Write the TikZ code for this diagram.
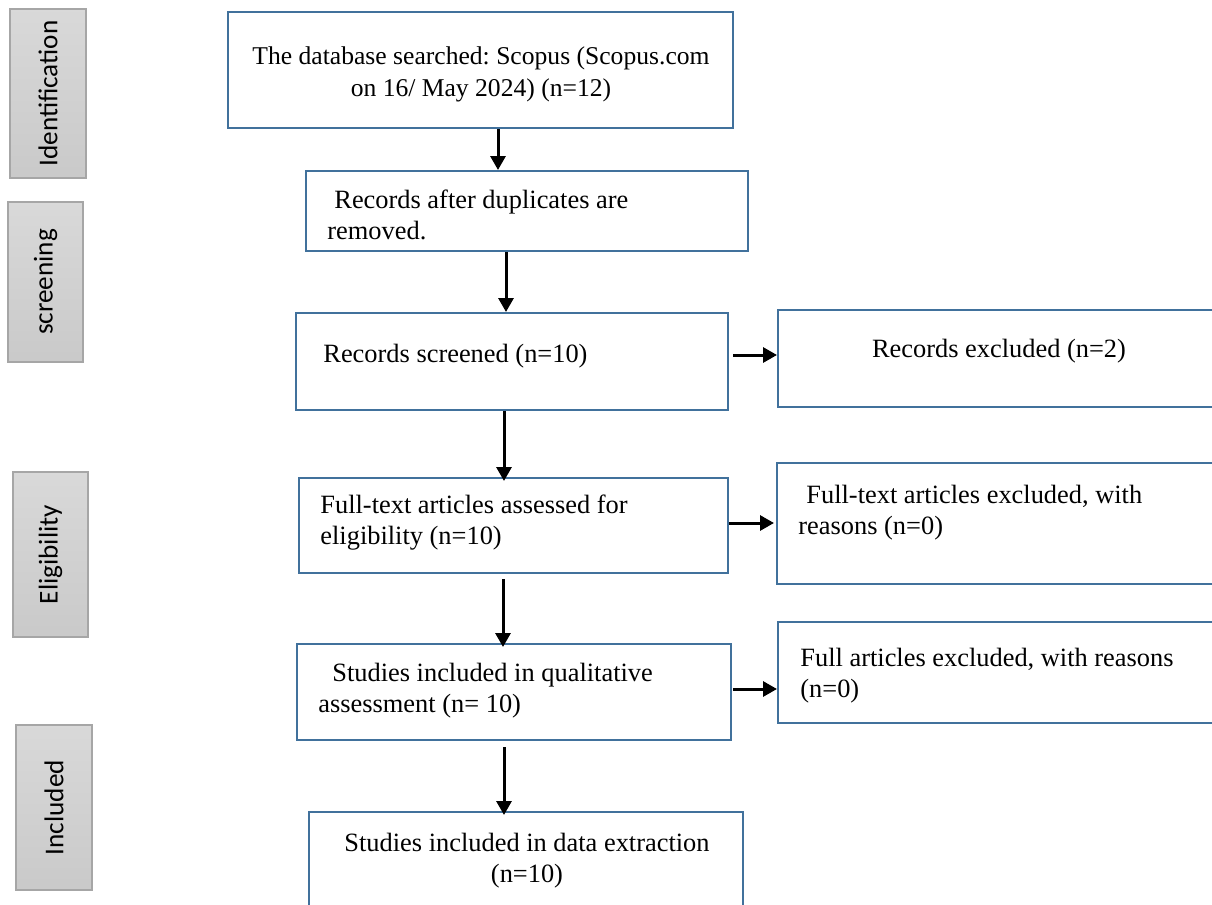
\documentclass[tikz,border=0pt]{standalone}
\usepackage{fontspec}
\setmainfont{Liberation Serif}
\newfontfamily\sidefont{Carlito}
\usetikzlibrary{arrows.meta}
\definecolor{boxblue}{RGB}{65,113,156}
\definecolor{sidegray}{RGB}{166,166,166}
\frenchspacing

\begin{document}
\begin{tikzpicture}[x=0.5pt, y=-0.5pt,
    box/.style={draw=boxblue, line width=1pt, inner sep=0pt},
    sidebox/.style={draw=sidegray, line width=0.6pt, top color=black!15,
      bottom color=black!21, inner sep=0pt},
    sidetext/.style={font=\sidefont\fontsize{13.6}{16}\selectfont, rotate=90},
    boxtext/.style={font=\fontsize{13.2}{15.5}\selectfont, inner sep=0pt, align=left},
    arr/.style={line width=1.5pt, -{Triangle[length=7pt, width=7.5pt]}}]

  % --- Page frame: everything beyond the edges is cut away ---
  \clip (0,0) rectangle (1212,905);

  % --- Stage labels on the left, grey boxes with rotated text ---
  \node[sidebox, minimum width=38pt, minimum height=84.5pt] (sIdent) at (48,93.5) {};
  \node[sidebox, minimum width=37.5pt, minimum height=80pt] (sScreen) at (45.5,282) {};
  \node[sidebox, minimum width=37.5pt, minimum height=82.5pt] (sElig) at (50.5,554.5) {};
  \node[sidebox, minimum width=38pt, minimum height=82.5pt] (sIncl) at (54,807.5) {};
  \node[sidetext] at (sIdent) {Identification};
  \node[sidetext] at (sScreen) {screening};
  \node[sidetext] at (sElig) {Eligibility};
  \node[sidetext] at (sIncl) {Included};

  % --- Main column of boxes ---
  \node[box, minimum width=252.5pt, minimum height=58pt] (search) at (480.5,70) {};
  \node[box, minimum width=221pt, minimum height=40pt] (dupl) at (527,211) {};
  \node[box, minimum width=216pt, minimum height=48.5pt] (screened) at (512,361.5) {};
  \node[box, minimum width=214.5pt, minimum height=47.5pt] (fulltext) at (513.5,525.5) {};
  \node[box, minimum width=217pt, minimum height=48pt] (quali) at (514,692) {};
  \node[box, minimum width=217pt, minimum height=59pt] (extract) at (526,871) {};

  % --- Exclusion boxes on the right (run past the right edge) ---
  \node[box, minimum width=226pt, minimum height=48.5pt] (exRec) at (1004,358.5) {};
  \node[box, minimum width=226.5pt, minimum height=60.5pt] (exFull) at (1003.5,523.5) {};
  \node[box, minimum width=226pt, minimum height=50.5pt] (exArt) at (1004,672.5) {};

  % --- Box texts ---
  \node[boxtext, align=center, font=\fontsize{12.8}{16}\selectfont] (tSearch) at (481,74)
    {The database searched: Scopus (Scopus.com\\on 16/ May 2024) (n=12)};
  \node[boxtext, anchor=west] (tDupl) at (327,215)
    {\hspace{3.5pt}Records after duplicates are\\removed.};
  \node[boxtext, anchor=base west] (tScreened) at (323,362) {Records screened (n=10)};
  \node[boxtext, anchor=west] (tFull) at (320,523)
    {Full-text articles assessed for\\eligibility (n=10)};
  \node[boxtext, anchor=west] (tQuali) at (318,691)
    {\hspace{7pt}Studies included in qualitative\\assessment (n= 10)};
  \node[boxtext, align=center] (tExtract) at (527,861)
    {Studies included in data extraction\\(n=10)};
  \node[boxtext] (tExRec) at (999,351) {Records excluded (n=2)};
  \node[boxtext, anchor=west] (tExFull) at (798,513)
    {\hspace{4pt}Full-text articles excluded, with\\reasons (n=0)};
  \node[boxtext, anchor=west] (tExArt) at (800,676)
    {Full articles excluded, with reasons\\(n=0)};

  % --- Downward arrows between the stages ---
  \draw[arr] (search.south -| 498,0) -- (dupl.north -| 498,0);
  \draw[arr] (dupl.south -| 506,0) -- (screened.north -| 506,0);
  \draw[arr] (screened.south -| 504,0) -- ([yshift=-2pt]fulltext.north -| 504,0);
  \draw[arr] ([yshift=-2.5pt]fulltext.south -| 503,0) -- ([yshift=-2pt]quali.north -| 503,0);
  \draw[arr] ([yshift=-3pt]quali.south -| 504,0) -- ([yshift=-2pt]extract.north -| 504,0);

  % --- Sideways arrows into the exclusion boxes ---
  \draw[arr, shorten <=2pt] (screened.east |- 0,355) -- (exRec.west |- 0,355);
  \draw[arr] (fulltext.east |- 0,523) -- ([xshift=-1pt]exFull.west |- 0,523);
  \draw[arr, shorten <=0.5pt] (quali.east |- 0,689) -- (exArt.west |- 0,689);

\end{tikzpicture}
\end{document}
